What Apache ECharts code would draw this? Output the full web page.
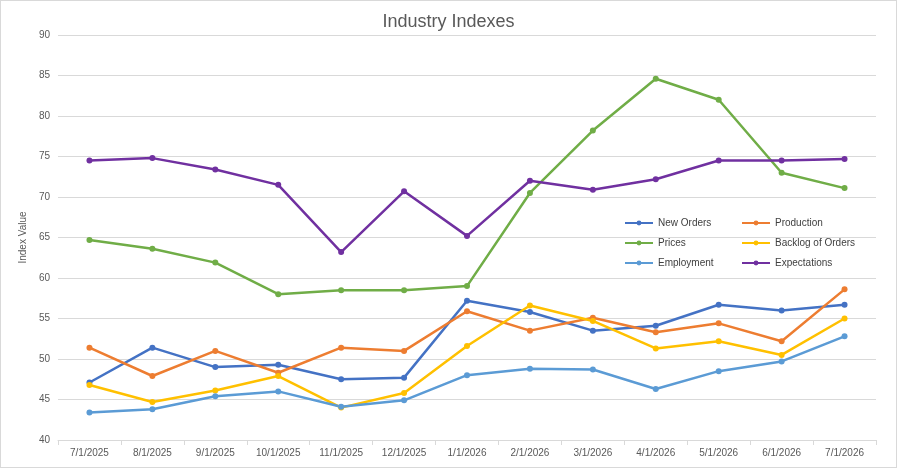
<!DOCTYPE html>
<html>
<head>
<meta charset="utf-8">
<script src="https://cdn.jsdelivr.net/npm/echarts@6/dist/echarts.min.js"></script>
<style>
  html, body { margin: 0; padding: 0; background: #fff; }
  #chart { width: 897px; height: 468px; box-sizing: border-box; border: 1px solid #d9d9d9; }
</style>
</head>
<body>
<div id="chart"></div>
<script>
// chart data
var dates = ['7/1/2025', '8/1/2025', '9/1/2025', '10/1/2025', '11/1/2025', '12/1/2025',
    '1/1/2026', '2/1/2026', '3/1/2026', '4/1/2026', '5/1/2026', '6/1/2026', '7/1/2026'];
var newOrders = [47.1, 51.4, 49.0, 49.3, 47.5, 47.7, 57.2, 55.8, 53.5, 54.1, 56.7, 56.0, 56.7];
var production = [51.4, 47.9, 51.0, 48.3, 51.4, 51.0, 55.9, 53.5, 55.1, 53.3, 54.4, 52.2, 58.6];
var prices = [64.7, 63.6, 61.9, 58.0, 58.5, 58.5, 59.0, 70.5, 78.2, 84.6, 82.0, 73.0, 71.1];
var backlog = [46.8, 44.7, 46.1, 47.9, 44.0, 45.8, 51.6, 56.6, 54.7, 51.3, 52.2, 50.5, 55.0];
var employment = [43.4, 43.8, 45.4, 46.0, 44.1, 44.9, 48.0, 48.8, 48.7, 46.3, 48.5, 49.7, 52.8];
var expectations = [74.5, 74.8, 73.4, 71.5, 63.2, 70.7, 65.2, 72.0, 70.9, 72.2, 74.5, 74.5, 74.7];

var chart = echarts.init(document.getElementById('chart'));

function line(name, data, color) {
    return {
        name: name,
        type: 'line',
        data: data,
        symbol: 'circle',
        symbolSize: 6,
        lineStyle: { width: 2.5, color: color },
        itemStyle: { color: color }
    };
}

var legendText = { fontSize: 10, color: '#404040', fontFamily: 'Liberation Sans' };

chart.setOption({
    animation: false,
    title: {
        text: 'Industry Indexes',
        left: 'center',
        top: 7,
        textStyle: { fontSize: 18, fontWeight: 'normal', color: '#595959', fontFamily: 'Liberation Sans' }
    },
    legend: [
        { data: ['New Orders', 'Prices', 'Employment'], orient: 'vertical', left: 618, top: 212,
          itemGap: 10, itemWidth: 28, itemHeight: 6, textStyle: legendText },
        { data: ['Production', 'Backlog of Orders', 'Expectations'], orient: 'vertical', left: 735, top: 212,
          itemGap: 10, itemWidth: 28, itemHeight: 6, textStyle: legendText }
    ],
    grid: { left: 57, right: 20, top: 34, bottom: 27 },
    xAxis: {
        type: 'category',
        data: dates,
        axisLine: { lineStyle: { color: '#d9d9d9' } },
        axisTick: { show: true, alignWithLabel: false, lineStyle: { color: '#d9d9d9' } },
        axisLabel: { color: '#595959', fontSize: 10, interval: 0, fontFamily: 'Liberation Sans' }
    },
    yAxis: {
        type: 'value',
        min: 40,
        max: 90,
        interval: 5,
        name: 'Index Value',
        nameLocation: 'middle',
        nameGap: 28,
        nameTextStyle: { color: '#595959', fontSize: 10, fontFamily: 'Liberation Sans' },
        axisLabel: { color: '#595959', fontSize: 10, fontFamily: 'Liberation Sans' },
        splitLine: { lineStyle: { color: '#d9d9d9' } }
    },
    series: [
        line('New Orders', newOrders, '#4472c4'),
        line('Production', production, '#ed7d31'),
        line('Prices', prices, '#70ad47'),
        line('Backlog of Orders', backlog, '#ffc000'),
        line('Employment', employment, '#5b9bd5'),
        line('Expectations', expectations, '#7030a0')
    ]
});

window.addEventListener('resize', function() {
    chart.resize();
});
</script>
</body>
</html>
